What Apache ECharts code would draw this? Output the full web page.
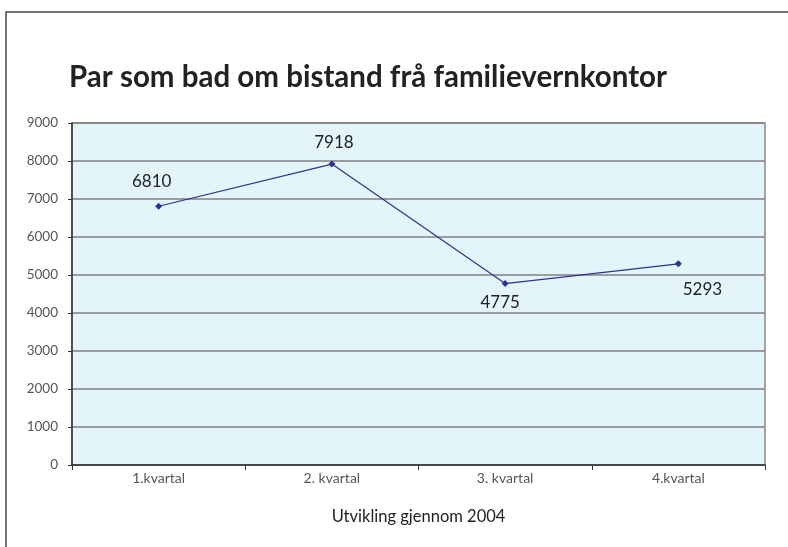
<!DOCTYPE html>
<html>
<head>
<meta charset="utf-8">
<script src="https://cdn.jsdelivr.net/npm/echarts@6/dist/echarts.min.js"></script>
<style>
  html, body { margin: 0; padding: 0; background: #fff; }
  #chart { width: 788px; height: 547px; }
</style>
</head>
<body>
<div id="chart"></div>
<script>
// data
const quarters = ['1.kvartal', '2. kvartal', '3. kvartal', '4.kvartal']
const pairs = [6810, 7918, 4775, 5293]
// label placement per point (position, offset)
const labelPos = [
  { position: 'top', offset: [-7, -8] },
  { position: 'top', offset: [2, -5] },
  { position: 'bottom', offset: [-5, 2] },
  { position: 'bottom', offset: [24, 9] }
]

const chart = echarts.init(document.getElementById('chart'))

const option = {
  backgroundColor: '#fff',
  animation: false,
  textStyle: { fontFamily: 'Lato' },
  title: {
    text: 'Par som bad om bistand frå familievernkontor',
    left: 64,
    top: 57,
    textStyle: { fontSize: 29.5, fontWeight: 'bold', color: '#222', fontFamily: 'Lato' }
  },
  graphic: [
    {
      type: 'rect',
      shape: { x: 6, y: 12, width: 820, height: 600 },
      style: { fill: 'none', stroke: '#444', lineWidth: 1.5 },
      z: 100
    }
  ],
  grid: {
    left: 72,
    right: 23,
    top: 123,
    bottom: 82,
    show: true,
    backgroundColor: '#E3F4FB',
    borderColor: '#888',
    borderWidth: 1.5
  },
  xAxis: {
    type: 'category',
    data: quarters,
    boundaryGap: true,
    name: 'Utvikling gjennom 2004',
    nameLocation: 'middle',
    nameGap: 43,
    nameTextStyle: { fontSize: 16.5, color: '#222' },
    axisLine: { lineStyle: { color: '#333', width: 1.5 } },
    axisTick: { show: true, length: 5, lineStyle: { color: '#333' } },
    axisLabel: { fontSize: 14, color: '#555', margin: 6 }
  },
  yAxis: {
    type: 'value',
    min: 0,
    max: 9000,
    interval: 1000,
    axisLine: { show: true, lineStyle: { color: '#333', width: 1.5 } },
    axisTick: { show: true, length: 4, lineStyle: { color: '#333' } },
    axisLabel: { fontSize: 13.5, color: '#555', margin: 14, formatter: v => String(v) },
    splitLine: { show: true, lineStyle: { color: '#808080', width: 1.5 } }
  },
  series: [
    {
      type: 'line',
      data: pairs.map((v, i) => ({
        value: v,
        label: { show: true, position: labelPos[i].position, offset: labelPos[i].offset }
      })),
      symbol: 'diamond',
      symbolSize: 7,
      lineStyle: { color: '#2E3192', width: 1.2 },
      itemStyle: { color: '#2E3192' },
      label: { fontSize: 17, color: '#222', fontFamily: 'Lato' },
      z: 10
    }
  ]
}

chart.setOption(option)
</script>
</body>
</html>
